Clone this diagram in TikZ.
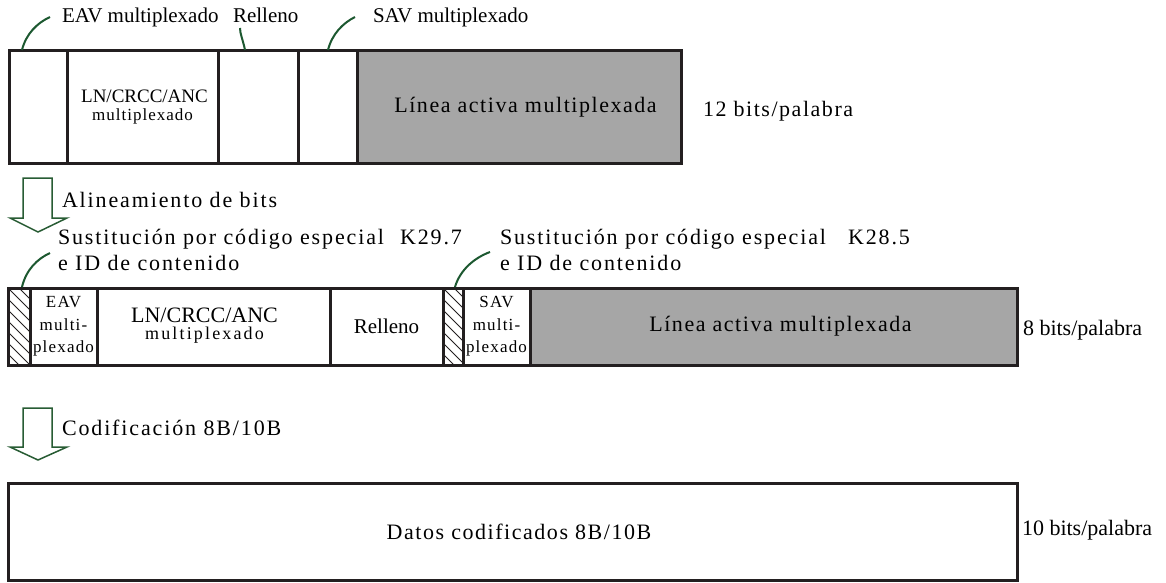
\documentclass[tikz,border=0pt]{standalone}
\usepackage{fontspec}
\setmainfont{Liberation Serif}
\newfontfamily\lsSeven[LetterSpace=7]{Liberation Serif}
\newfontfamily\lsEight[LetterSpace=8.5]{Liberation Serif}
\newfontfamily\lsSix[LetterSpace=6]{Liberation Serif}
\newfontfamily\lsTwelve[LetterSpace=12]{Liberation Serif}
\usetikzlibrary{calc}
\definecolor{linec}{RGB}{35,31,32}
\definecolor{grayc}{RGB}{166,166,166}
\definecolor{greenc}{RGB}{28,88,48}
\definecolor{arrowc}{RGB}{40,92,52}
\newcommand\myBig{\lsSeven\fontsize{22}{26}\selectfont}
\newcommand\myBigW{\lsEight\fontsize{22}{26}\selectfont}
\newcommand\myLab{\fontsize{21}{24}\selectfont}
\newcommand\mySmall{\lsSeven\fontsize{17}{22.5}\selectfont}
\begin{document}
\begin{tikzpicture}[x=1pt,y=-1pt,
  cell/.style={draw=linec, line width=3pt, inner sep=0pt, outer sep=0pt, anchor=north west, align=center},
  greycell/.style={cell, fill=grayc},
  celltext/.style={inner sep=0pt, outer sep=0pt, align=center},
  lab/.style={inner sep=0pt, outer sep=0pt, anchor=base west, text=black},
  callout/.style={draw=greenc, line width=2pt},
  hatch/.style={draw=linec, line width=1pt},
  blockarrow/.style={draw=arrowc, line width=1.5pt, fill=white, line join=miter},
]
\useasboundingbox (0,0) rectangle (1166,583);

% ---------- top row (12 bits) ----------
\node[cell, minimum width=58, minimum height=112] (t1) at (9,51) {};
\node[cell, minimum width=151, minimum height=112, font=\fontsize{19}{18}\selectfont] (t2) at (67,51)
  {\kern4pt LN/CRCC/ANC\\{\lsSix\fontsize{17}{18}\selectfont multiplexado}};
\node[cell, minimum width=80, minimum height=112] (t3) at (218,51) {};
\node[cell, minimum width=59, minimum height=112] (t4) at (298,51) {};
\node[greycell, minimum width=324, minimum height=112, font=\myBig] (t5) at (357,51) {\kern13pt Línea activa multiplexada};

\node[lab, font=\myLab] (lEAV) at (62,23) {EAV multiplexado};
\node[lab, font=\myLab] (lRel) at (233,23) {Relleno};
\node[lab, font=\myLab] (lSAV) at (373,23) {SAV multiplexado};
\node[lab, font=\myBig] (l12) at (703,117) {12 bits/palabra};

\coordinate (c1a) at (22,50);  \coordinate (c1b) at (50,17);
\coordinate (c2a) at (245,50); \coordinate (c2b) at (240,28);
\coordinate (c3a) at (328,50); \coordinate (c3b) at (355,17);
\draw[callout] (c1a) .. controls (26,34) and (37,23) .. (c1b);
\draw[callout] (c2a) .. controls (243,40) and (240,34) .. (c2b);
\draw[callout] (c3a) .. controls (332,34) and (343,23) .. (c3b);

% ---------- arrow 1 ----------
\draw[blockarrow] (23,178) -- (52,178) -- (52,218) -- (67,218) -- (38,232) -- (10,218) -- (23,218) -- cycle;
\node[lab, font=\myBigW] (lAlin) at (62,207) {Alineamiento de bits};

% ---------- middle row (8 bits) ----------
\node[cell, minimum width=22, minimum height=77] (h1) at (8,288) {};
\node[cell, minimum width=67, minimum height=77, font=\mySmall] (m1) at (30,288) {EAV\\multi-\\plexado};
\node[cell, minimum width=233, minimum height=77] (m2) at (97,288) {};
\node[celltext, font=\fontsize{22}{17}\selectfont] (m2t) at ([xshift=-9pt,yshift=1pt]m2.center)
  {LN/CRCC/ANC\\{\lsTwelve\fontsize{18}{17}\selectfont multiplexado}};
\node[cell, minimum width=113, minimum height=77, font=\fontsize{21}{24}\selectfont] (m3) at (330,288) {Relleno};
\node[cell, minimum width=20, minimum height=77] (h2) at (443,288) {};
\node[cell, minimum width=67, minimum height=77, font=\mySmall] (m4) at (463,288) {SAV\\multi-\\plexado};
\node[greycell, minimum width=487, minimum height=77, font=\myBig] (m5) at (530,288) {\kern14pt Línea activa multiplexada};

\foreach \h in {h1,h2}{
  \begin{scope}
    \clip (\h.north west) rectangle (\h.south east);
    \foreach \k in {-3,...,8}{
      \draw[hatch] ($(\h.north west)+(0,\k*11)$) -- ++(30,30);
    }
  \end{scope}
}

\node[lab, font=\myBigW] (lS1) at (58,244) {Sustitución por código especial\hspace{16pt}K29.7};
\node[lab, font=\myBigW] (lS1b) at (58,270) {e ID de contenido};
\node[lab, font=\myBigW] (lS2) at (500,244) {Sustitución por código especial\hspace{22pt}K28.5};
\node[lab, font=\myBigW] (lS2b) at (500,270) {e ID de contenido};
\node[lab, font=\fontsize{22}{24}\selectfont] (l8) at (1023,335) {8 bits/palabra};

\coordinate (c4a) at (22,287);  \coordinate (c4b) at (50,253);
\coordinate (c5a) at (455,287); \coordinate (c5b) at (490,252);
\draw[callout] (c4a) .. controls (26,270) and (37,259) .. (c4b);
\draw[callout] (c5a) .. controls (460,270) and (474,258) .. (c5b);

% ---------- arrow 2 ----------
\draw[blockarrow] (23,408) -- (52,408) -- (52,447) -- (67,447) -- (38,460) -- (10,447) -- (23,447) -- cycle;
\node[lab, font=\myBigW] (lCod) at (62,435) {Codificación 8B/10B};

% ---------- bottom row (10 bits) ----------
\node[cell, minimum width=1009, minimum height=97, font=\myBig] (b1) at (8,483) {\kern13pt Datos codificados 8B/10B};
\node[lab, font=\fontsize{22}{24}\selectfont] (l10) at (1022,535) {10 bits/palabra};
\end{tikzpicture}
\end{document}
